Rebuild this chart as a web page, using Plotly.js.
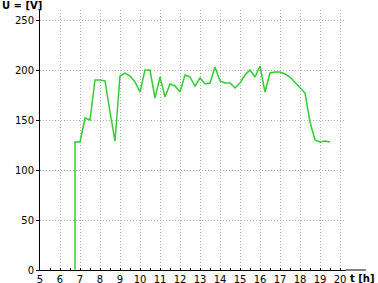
<!DOCTYPE html>
<html>
<head>
<meta charset="utf-8">
<script src="https://cdn.plot.ly/plotly-3.0.1.min.js"></script>
<style>html,body{margin:0;padding:0;background:#fff;}#chart{width:378px;height:283px;}</style>
</head>
<body>
<div id="chart"></div>
<script>
const timeHours = [6.75, 6.75, 7.0, 7.25, 7.5, 7.75, 8.0, 8.25, 8.5, 8.75, 9.0, 9.25, 9.5, 9.75, 10.0, 10.25, 10.5, 10.75, 11.0, 11.25, 11.5, 11.75, 12.0, 12.25, 12.5, 12.75, 13.0, 13.25, 13.5, 13.75, 14.0, 14.25, 14.5, 14.75, 15.0, 15.25, 15.5, 15.75, 16.0, 16.25, 16.5, 16.75, 17.0, 17.25, 17.5, 17.75, 18.0, 18.25, 18.5, 18.75, 19.0, 19.25, 19.5];
const voltage = [0, 128, 128, 152, 150, 190, 190, 189, 158, 129, 194, 197, 194, 188, 178, 200, 200, 172, 193, 173, 186, 184, 178, 195, 193, 184, 192, 186, 187, 203, 189, 187, 187, 182, 187, 195, 200, 193, 204, 178, 197, 198, 198, 196, 193, 188, 183, 177, 148, 130, 128, 129, 128];
const xTickVals = [5, 6, 7, 8, 9, 10, 11, 12, 13, 14, 15, 16, 17, 18, 19, 20];
const yTickVals = [0, 50, 100, 150, 200, 250];
const xTitle = 't [h]';
const yTitle = 'U = [V]';

const trace = {
  x: timeHours, y: voltage, type: 'scatter', mode: 'lines',
  line: {color: '#33cc33', width: 1.5},
  hoverinfo: 'none'
};

const layout = {
  width: 378, height: 283,
  margin: {l: 40, r: 32, t: 10, b: 13, pad: 0},
  paper_bgcolor: '#ffffff', plot_bgcolor: '#ffffff',
  showlegend: false,
  font: {family: 'DejaVu Sans', size: 10, color: '#000'},
  xaxis: {
    range: [5, 20.3], tickvals: xTickVals, ticktext: xTickVals.map(String),
    showgrid: true, gridcolor: '#b0b0b0', griddash: '1px,2px', gridwidth: 1,
    zeroline: false, showline: true, linecolor: '#000', linewidth: 1,
    ticks: 'inside', ticklen: 2, tickcolor: '#000',
    minor: {dtick: 0.5, tick0: 5, ticks: 'inside', ticklen: 2, tickcolor: '#000', showgrid: false},
    tickfont: {family: 'DejaVu Sans', size: 10, color: '#000'},
    fixedrange: true
  },
  yaxis: {
    range: [0, 260], tickvals: yTickVals, ticktext: yTickVals.map(String),
    showgrid: true, gridcolor: '#b0b0b0', griddash: '1px,2px', gridwidth: 1,
    zeroline: false, showline: true, linecolor: '#000', linewidth: 1,
    ticks: 'outside', ticklen: 3, tickcolor: '#000',
    tickfont: {family: 'DejaVu Sans', size: 10, color: '#000'},
    fixedrange: true
  },
  shapes: [
    {type: 'line', xref: 'paper', yref: 'paper', x0: 1, x1: 1.065, y0: 0, y1: 0,
     line: {color: '#000', width: 1}}
  ],
  annotations: [
    {text: '<b>' + yTitle + '</b>', xref: 'paper', yref: 'paper', x: -40/306, y: 1 + 5/260,
     xanchor: 'left', yanchor: 'middle', showarrow: false,
     font: {family: 'DejaVu Sans', size: 10, color: '#000'}},
    {text: '<b>' + xTitle + '</b>', xref: 'paper', yref: 'paper', x: 1 + 31/306, y: -8/260,
     xanchor: 'right', yanchor: 'middle', showarrow: false,
     font: {family: 'DejaVu Sans', size: 10, color: '#000'}}
  ]
};

Plotly.newPlot('chart', [trace], layout, {displayModeBar: false, staticPlot: true});
</script>
</body>
</html>
